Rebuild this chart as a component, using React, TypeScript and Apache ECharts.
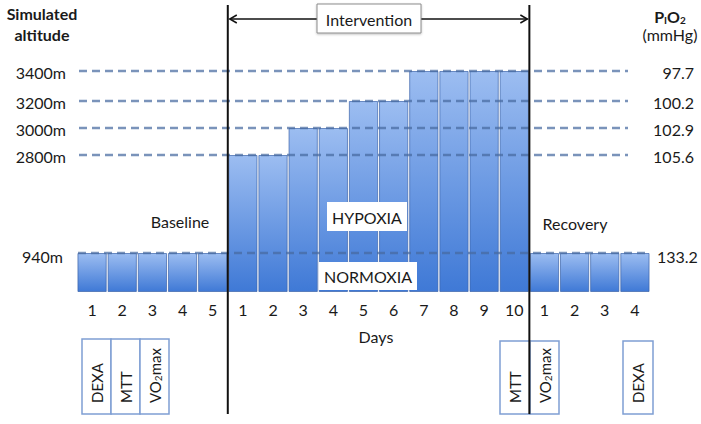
import React, { useEffect, useRef } from 'react';
import * as echarts from 'echarts';

// ---- data ----
const dayPhase = ['B', 'B', 'B', 'B', 'B', 'I', 'I', 'I', 'I', 'I', 'I', 'I', 'I', 'I', 'I', 'R', 'R', 'R', 'R'];
const dayLabels = ['1', '2', '3', '4', '5', '1', '2', '3', '4', '5', '6', '7', '8', '9', '10', '1', '2', '3', '4'];
const altitudeLabels = ['940m', '2800m', '3000m', '3200m', '3400m'];
const pio2Labels = ['133.2', '105.6', '102.9', '100.2', '97.7'];
// schematic bar height of each altitude level (diagram units)
const levelHeights = [39, 137, 164, 191, 221];
// altitude level (index into the arrays above) for each day
const dayLevel = [0, 0, 0, 0, 0, 1, 1, 2, 2, 3, 3, 4, 4, 4, 4, 0, 0, 0, 0];
const baselineTests = ['DEXA', 'MTT', 'VO2max'];
const recoveryTests = ['MTT', 'VO2max', 'DEXA'];

const FONT = 'Lato, "Noto Sans", sans-serif';
const TXT = '#1a1a1a';

export default function App() {
  const ref = useRef<HTMLDivElement>(null);

  useEffect(() => {
    document.body.style.margin = '0';
    if (!ref.current) return;
    const chart = echarts.init(ref.current, null, { renderer: 'svg' });
    const categories = dayLabels.map((d, i) => dayPhase[i] + d);
    const values = dayLevel.map((l) => levelHeights[l]);

    chart.setOption({
      animation: false,
      grid: { left: 77, right: 51, top: 71, bottom: 132 },
      xAxis: {
        type: 'category',
        data: categories,
        axisLine: { show: false },
        axisTick: { show: false },
        axisLabel: {
          formatter: (v: string) => v.slice(1),
          margin: 9,
          fontSize: 16,
          fontFamily: FONT,
          color: TXT,
          interval: 0,
        },
      },
      yAxis: { type: 'value', min: 0, max: 221, show: false },
      series: [
        {
          type: 'bar',
          data: values,
          barCategoryGap: '3%',
          itemStyle: {
            color: new echarts.graphic.LinearGradient(0, 0, 0, 1, [
              { offset: 0, color: '#9cbdf1' },
              { offset: 1, color: '#3f79d6' },
            ]),
            borderColor: 'rgba(60,100,170,0.7)',
            borderWidth: 1,
          },
          z: 2,
        },
      ],
    });

    const X = (i: number) => chart.convertToPixel({ xAxisIndex: 0 }, i) as number;
    const Y = (v: number) => chart.convertToPixel({ yAxisIndex: 0 }, v) as number;
    const b1 = (X(4) + X(5)) / 2;
    const b2 = (X(14) + X(15)) / 2;

    const g: any[] = [];
    const text = (t: string, x: number, y: number, extra: any = {}) => ({
      type: 'text',
      z: 120,
      style: {
        text: t,
        x,
        y,
        align: 'center',
        verticalAlign: 'middle',
        font: `16px ${FONT}`,
        fill: TXT,
        ...extra,
      },
    });

    // dashed level lines
    levelHeights.forEach((h, li) => {
      const y = Y(h);
      const isBase = li === 0;
      g.push({
        type: 'line',
        z: 110,
        shape: { x1: isBase ? 78 : 79, y1: y, x2: isBase ? 650 : 628, y2: y },
        style: { stroke: 'rgba(70,105,160,0.72)', lineWidth: 2.5, lineDash: [8, 5] },
      });
      g.push(
        text(altitudeLabels[li], isBase ? 63 : 66, y + (isBase ? 3 : 1), { align: 'right' })
      );
      g.push(
        text(pio2Labels[li], isBase ? 657 : 694, y + (isBase ? 3 : 1), { align: isBase ? 'left' : 'right' })
      );
    });

    // vertical phase boundaries
    [b1, b2].forEach((x) =>
      g.push({
        type: 'line',
        z: 130,
        shape: { x1: x, y1: 5, x2: x, y2: 414 },
        style: { stroke: '#111', lineWidth: 2 },
      })
    );

    // intervention arrow
    g.push({
      type: 'line',
      z: 130,
      shape: { x1: b1 + 2, y1: 19, x2: b2 - 2, y2: 19 },
      style: { stroke: '#111', lineWidth: 1.5 },
    });
    g.push({
      type: 'polyline',
      z: 130,
      shape: { points: [[b1 + 9, 15], [b1 + 2, 19], [b1 + 9, 23]] },
      style: { stroke: '#111', lineWidth: 1.5, fill: 'none' },
    });
    g.push({
      type: 'polyline',
      z: 130,
      shape: { points: [[b2 - 9, 15], [b2 - 2, 19], [b2 - 9, 23]] },
      style: { stroke: '#111', lineWidth: 1.5, fill: 'none' },
    });
    g.push({
      type: 'rect',
      z: 131,
      shape: { x: 317, y: 4, width: 104, height: 29 },
      style: { fill: '#fff', stroke: '#8c8c8c', lineWidth: 1, shadowBlur: 2, shadowColor: 'rgba(0,0,0,0.25)', shadowOffsetY: 1 },
    });
    g.push({ ...text('Intervention', 369, 19), z: 132 });

    // titles
    g.push(text('Simulated', 42, 13, { font: `bold 16px ${FONT}` }));
    g.push(text('altitude', 42, 34, { font: `bold 16px ${FONT}` }));
    g.push({
      type: 'text',
      z: 120,
      style: {
        text: '{b|P}{s|I}{b|O}{s|2}',
        x: 670,
        y: 16,
        align: 'center',
        verticalAlign: 'middle',
        fill: TXT,
        rich: {
          b: { font: `bold 16px ${FONT}`, lineHeight: 20, verticalAlign: 'middle', fill: TXT },
          s: { font: `bold 10px ${FONT}`, lineHeight: 12, padding: [8, 0, 0, 0], verticalAlign: 'middle', fill: TXT },
        },
      },
    });
    g.push(text('(mmHg)', 670, 34));

    // phase texts
    g.push(text('Baseline', 180, 221));
    g.push(text('Recovery', 575, 223));
    g.push(text('Days', 376, 336));

    // hypoxia / normoxia
    g.push({ type: 'rect', z: 120, shape: { x: 327, y: 202, width: 80, height: 29 }, style: { fill: '#fff' } });
    g.push({ ...text('HYPOXIA', 367, 217), z: 121 });
    g.push({ type: 'rect', z: 120, shape: { x: 319, y: 262, width: 98, height: 28 }, style: { fill: '#fff' } });
    g.push({ ...text('NORMOXIA', 368, 276), z: 121 });

    // test boxes
    const testBox = (label: string, x: number, y: number, w: number, h: number) => {
      g.push({
        type: 'rect',
        z: 115,
        shape: { x, y, width: w, height: h },
        style: { fill: '#fff', stroke: '#7f9fd3', lineWidth: 1.5 },
      });
      const isVO = label === 'VO2max';
      g.push({
        type: 'text',
        z: 116,
        x: x + w / 2,
        y: 403,
        rotation: Math.PI / 2,
        style: {
          text: isVO ? '{b|VO}{s|2}{b|max}' : label,
          x: 0,
          y: 0,
          align: 'left',
          verticalAlign: 'middle',
          font: `15px ${FONT}`,
          fill: TXT,
          rich: isVO
            ? {
                b: { font: `15px ${FONT}`, lineHeight: 18, verticalAlign: 'middle', fill: TXT },
                s: { font: `10px ${FONT}`, lineHeight: 11, padding: [7, 0, 0, 0], verticalAlign: 'middle', fill: TXT },
              }
            : undefined,
        },
      });
    };
    const baseX = [82, 111, 140];
    baselineTests.forEach((t, i) => testBox(t, baseX[i], 339, 29, 75));
    const recX = [500, 530, 623];
    const recW = [30, 29, 30];
    recoveryTests.forEach((t, i) => testBox(t, recX[i], 341, recW[i], 73));

    chart.setOption({ graphic: g });

    return () => chart.dispose();
  }, []);

  return <div ref={ref} style={{ width: 701, height: 424 }} />;
}
